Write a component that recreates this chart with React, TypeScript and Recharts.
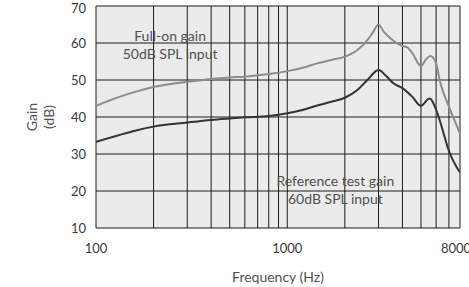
import { LineChart, Line, XAxis, YAxis, CartesianGrid, ReferenceLine, ReferenceDot, Label } from "recharts";

const FONT = "Lato, 'Open Sans', sans-serif";

const fullOnFreq = [100, 130, 160, 200, 300, 400, 500, 600, 800, 1000, 1200, 1436, 1700, 2000, 2325, 2623, 2800, 3000, 3200, 3460, 4000, 4250, 4500, 5000, 5300, 5600, 5950, 6320, 7000, 8000];
const fullOnGain = [43, 45.3, 46.8, 48.1, 49.5, 50.3, 50.7, 50.9, 51.6, 52.4, 53.3, 54.5, 55.4, 56.3, 58.1, 60.8, 62.8, 65, 63, 61.3, 59.2, 58.8, 57.3, 53.8, 55.5, 56.5, 55, 49.1, 42.8, 35.6];

const refFreq = [100, 130, 160, 200, 300, 400, 500, 600, 800, 1000, 1200, 1436, 1700, 2000, 2325, 2623, 3000, 3300, 3590, 4000, 4500, 5000, 5538, 6100, 6558, 6886, 8000];
const refGain = [33.3, 35, 36.3, 37.4, 38.5, 39.2, 39.6, 39.9, 40.3, 41, 41.9, 43.1, 44.1, 45.2, 47.3, 50, 52.7, 51, 49.1, 47.8, 45.5, 43, 45, 41, 35.7, 31.9, 25];

const xTicks = [100, 1000, 8000];
const yTicks = [10, 20, 30, 40, 50, 60, 70];
const gridFreqs = [100, 200, 300, 400, 500, 600, 700, 800, 900, 1000, 2000, 3000, 4000, 5000, 6000, 7000, 8000];

const fullOnData = fullOnFreq.map((f, i) => ({ f, g: fullOnGain[i] }));
const refData = refFreq.map((f, i) => ({ f, g: refGain[i] }));

function TwoLineLabel(props: any) {
  const { viewBox, lines } = props;
  const cx = viewBox.x + (viewBox.width || 0) / 2;
  const cy = viewBox.y + (viewBox.height || 0) / 2;
  return (
    <text x={cx} y={cy} textAnchor="middle" fill="#505050" fontSize={14} fontFamily={FONT}>
      <tspan x={cx} dy="-0.25em">{lines[0]}</tspan>
      <tspan x={cx} dy="1.3em">{lines[1]}</tspan>
    </text>
  );
}

function GainLabel(props: any) {
  const { viewBox } = props;
  const cy = viewBox.y + viewBox.height / 2;
  const cx = 41;
  return (
    <text transform={`rotate(-90, ${cx}, ${cy})`} x={cx} y={cy} textAnchor="middle" fill="#505050" fontSize={14} fontFamily={FONT}>
      <tspan x={cx} dy="-0.3em">Gain</tspan>
      <tspan x={cx} dy="1.25em">(dB)</tspan>
    </text>
  );
}

export default function App() {
  return (
    <div style={{ position: "absolute", left: 0, top: 0, width: 469, height: 287, background: "#fff" }}>
      <LineChart width={469} height={287} margin={{ top: 6, right: 9, bottom: 0, left: 0 }}>
        <CartesianGrid vertical={false} horizontal={false} fill="#ebebeb" />
        <XAxis
          dataKey="f"
          type="number"
          scale="log"
          domain={[100, 8000]}
          ticks={xTicks}
          allowDataOverflow
          axisLine={false}
          tickLine={false}
          tickSize={6}
          tickMargin={10}
          height={59}
          tick={{ fill: "#3a3a3a", fontSize: 13, fontFamily: FONT }}
        >
          <Label value="Frequency (Hz)" position="insideBottom" offset={5} fill="#505050" fontSize={14} fontFamily={FONT} />
        </XAxis>
        <YAxis
          type="number"
          domain={[10, 70]}
          ticks={yTicks}
          axisLine={false}
          tickLine={false}
          tickSize={6}
          tickMargin={4}
          width={96}
          tick={{ fill: "#3a3a3a", fontSize: 13, fontFamily: FONT }}
          label={{ content: (p: any) => <GainLabel {...p} /> }}
        />
        {yTicks.map((v) => (
          <ReferenceLine key={"h" + v} y={v} stroke="#1c1c1c" strokeWidth={1} ifOverflow="extendDomain" />
        ))}
        {gridFreqs.map((f) => (
          <ReferenceLine key={"v" + f} x={f} stroke="#1c1c1c" strokeWidth={1} />
        ))}
        <Line data={fullOnData} dataKey="g" type="monotone" stroke="#8c8c8c" strokeWidth={2} dot={false} isAnimationActive={false} />
        <Line data={refData} dataKey="g" type="monotone" stroke="#333333" strokeWidth={2} dot={false} isAnimationActive={false} />
        <ReferenceDot x={244} y={59.7} r={0} fill="none" stroke="none" label={{ content: (p: any) => <TwoLineLabel {...p} lines={["Full-on gain", "50dB SPL input"]} /> }} />
        <ReferenceDot x={1784} y={20.5} r={0} fill="none" stroke="none" label={{ content: (p: any) => <TwoLineLabel {...p} lines={["Reference test gain", "60dB SPL input"]} /> }} />
      </LineChart>
    </div>
  );
}
